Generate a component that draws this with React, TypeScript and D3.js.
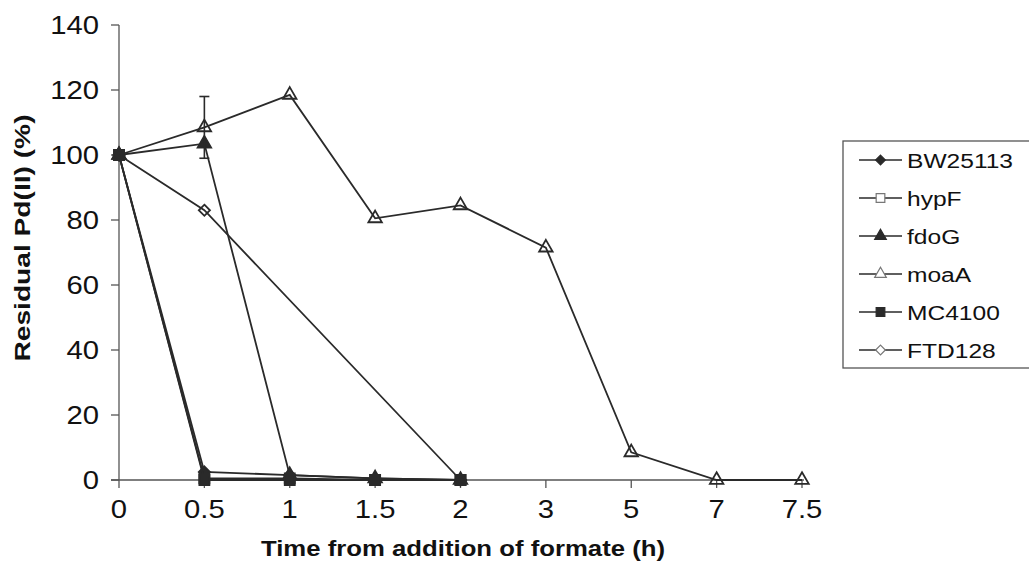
import * as d3 from "d3";

const timeLabels = ["0", "0.5", "1", "1.5", "2", "3", "5", "7", "7.5"];
const yTicks = [0, 20, 40, 60, 80, 100, 120, 140];

// null = no measurement at that time point
const bw25113 = [100, 2.5, 1.5, 0.5, 0, null, null, null, null];
const hypF = [100, 0.5, 0.5, 0, 0, null, null, null, null];
const fdoG = [100, 103.5, 1.5, 0.5, 0, null, null, null, null];
const moaA = [100, 108.5, 118.5, 80.5, 84.5, 71.5, 8.5, 0, 0];
const mc4100 = [100, 0, 0, 0, 0, null, null, null, null];
const ftd128 = [100, 83, null, null, 0, null, null, null, null];
const moaAError = [0, 9.5, 0, 0, 0, 0, 0, 0, 0];

type Marker = "diamond" | "square" | "triangle";

const series = [
  { name: "BW25113", values: bw25113, marker: "diamond" as Marker, filled: true },
  { name: "hypF", values: hypF, marker: "square" as Marker, filled: false },
  { name: "fdoG", values: fdoG, marker: "triangle" as Marker, filled: true },
  { name: "moaA", values: moaA, marker: "triangle" as Marker, filled: false, errors: moaAError },
  { name: "MC4100", values: mc4100, marker: "square" as Marker, filled: true },
  { name: "FTD128", values: ftd128, marker: "diamond" as Marker, filled: false },
];

const ink = "#2a2a2a";
const font = "'Liberation Sans', Arial, sans-serif";
const width = 1029;
const height = 585;
const plot = { left: 119, right: 802, top: 25, bottom: 480 };
const stretch = 1.17; // the reference text is a bit wider than Arial

function markerPath(kind: Marker, scale = 1) {
  if (kind === "diamond") return d3.symbol(d3.symbolDiamond2, 80 * scale)() as string;
  if (kind === "square") return d3.symbol(d3.symbolSquare, 100 * scale)() as string;
  return d3.symbol(d3.symbolTriangle2, 130 * scale)() as string;
}

function Label(props: {
  x: number;
  y: number;
  size: number;
  anchor?: "start" | "middle" | "end";
  bold?: boolean;
  rotate?: number;
  sx?: number;
  children: any;
}) {
  const { x, y, size, anchor = "start", bold = false, rotate = 0, sx = stretch, children } = props;
  return (
    <text
      transform={`translate(${x}, ${y}) rotate(${rotate}) scale(${sx}, 1)`}
      textAnchor={anchor}
      fontSize={size}
      fontWeight={bold ? "bold" : "normal"}
      fill="#111"
    >
      {children}
    </text>
  );
}

export default function App() {
  const x = d3.scalePoint<string>().domain(timeLabels).range([plot.left, plot.right]).padding(0);
  const y = d3.scaleLinear().domain([0, 140]).range([plot.bottom, plot.top]);

  const line = d3
    .line<{ label: string; value: number }>()
    .x((d) => x(d.label) as number)
    .y((d) => y(d.value));

  return (
    <svg
      width={width}
      height={height}
      style={{ position: "absolute", left: 0, top: 0, background: "#fff" }}
      fontFamily={font}
    >
      <rect width={width} height={height} fill="#fff" />

      {/* y axis */}
      <line x1={plot.left} x2={plot.left} y1={plot.top} y2={plot.bottom} stroke="#555" strokeWidth={1.3} />
      {yTicks.map((t) => (
        <g key={t}>
          <line x1={plot.left - 8} x2={plot.left} y1={y(t)} y2={y(t)} stroke="#555" strokeWidth={1.3} />
          <Label x={plot.left - 20} y={y(t) + 9} size={25} anchor="end">
            {t}
          </Label>
        </g>
      ))}

      {/* x axis */}
      <line x1={plot.left - 8} x2={plot.right + 2} y1={plot.bottom} y2={plot.bottom} stroke="#555" strokeWidth={1.3} />
      {timeLabels.map((t) => (
        <g key={t}>
          <line x1={x(t)} x2={x(t)} y1={plot.bottom} y2={plot.bottom + 8} stroke="#555" strokeWidth={1.3} />
          <Label x={x(t) as number} y={plot.bottom + 38} size={25} anchor="middle">
            {t}
          </Label>
        </g>
      ))}

      <Label x={463} y={556} size={22} anchor="middle" bold>
        Time from addition of formate (h)
      </Label>
      <Label x={30} y={238} size={22} anchor="middle" bold rotate={-90} sx={1.28}>
        Residual Pd(II) (%)
      </Label>

      {/* series */}
      {series.map((s) => {
        const pts = s.values
          .map((v, i) => ({ label: timeLabels[i], value: v as number, err: s.errors ? s.errors[i] : 0 }))
          .filter((d) => d.value !== null);
        return (
          <g key={s.name}>
            <path d={line(pts) as string} fill="none" stroke={ink} strokeWidth={1.8} />
            {pts
              .filter((d) => d.err > 0)
              .map((d) => (
                <g key={"e" + d.label} stroke={ink} strokeWidth={1.6}>
                  <line x1={x(d.label)} x2={x(d.label)} y1={y(d.value + d.err)} y2={y(d.value - d.err)} />
                  <line x1={(x(d.label) as number) - 5} x2={(x(d.label) as number) + 5} y1={y(d.value + d.err)} y2={y(d.value + d.err)} />
                  <line x1={(x(d.label) as number) - 5} x2={(x(d.label) as number) + 5} y1={y(d.value - d.err)} y2={y(d.value - d.err)} />
                </g>
              ))}
            {pts.map((d) => (
              <path
                key={d.label}
                d={markerPath(s.marker)}
                transform={`translate(${x(d.label)}, ${y(d.value)})`}
                fill={s.filled ? ink : "none"}
                stroke={ink}
                strokeWidth={1.8}
              />
            ))}
          </g>
        );
      })}

      {/* legend */}
      <rect x={843} y={141} width={200} height={227} fill="#fff" stroke="#555" strokeWidth={1.3} />
      {series.map((s, i) => {
        const cy = 160 + i * 38;
        return (
          <g key={s.name}>
            <line x1={859} x2={902} y1={cy} y2={cy} stroke={ink} strokeWidth={1.6} />
            <path
              d={markerPath(s.marker, 0.75)}
              transform={`translate(880.5, ${cy})`}
              fill={s.filled ? ink : "#fff"}
              stroke={s.filled ? ink : "#777"}
              strokeWidth={1.2}
            />
            <Label x={907} y={cy + 7.5} size={21}>
              {s.name}
            </Label>
          </g>
        );
      })}
    </svg>
  );
}
